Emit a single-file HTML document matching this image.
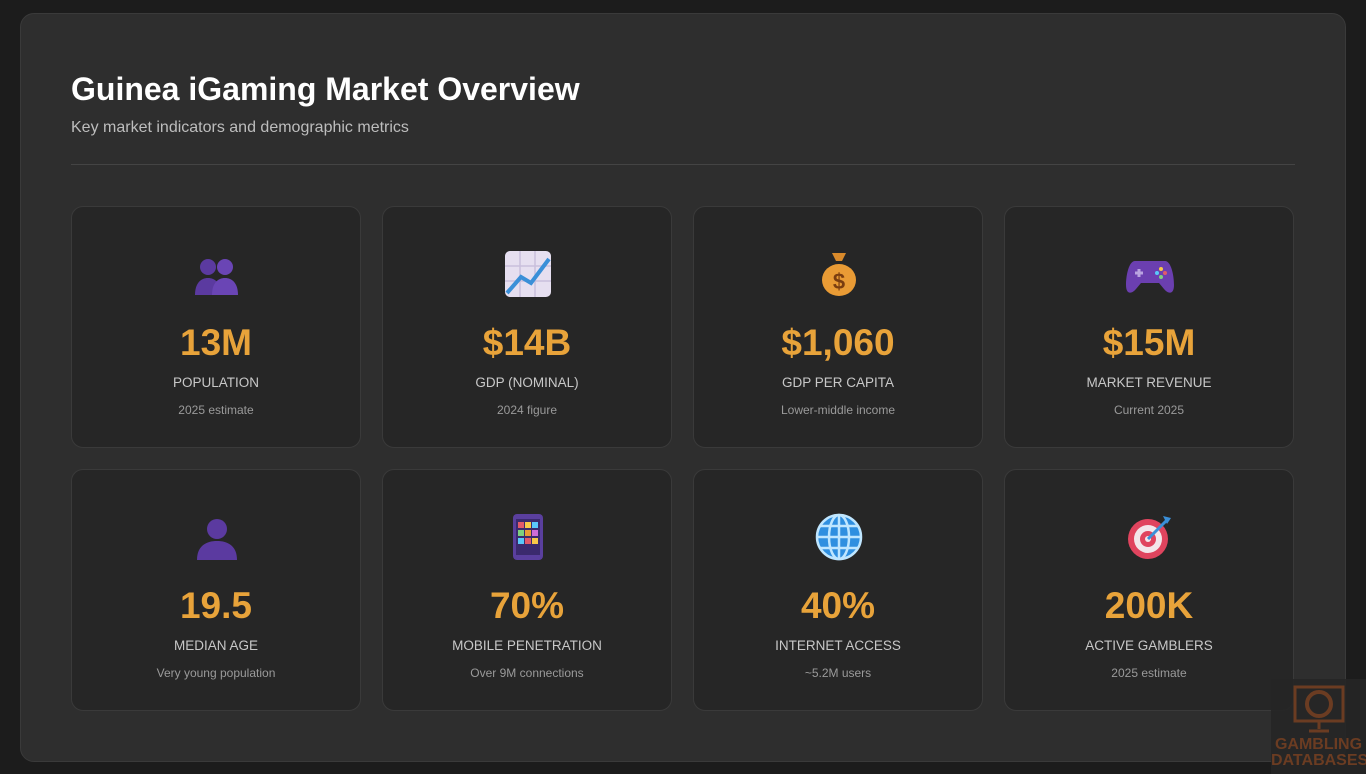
<!DOCTYPE html>
<html><head><meta charset="utf-8"><style>
*{margin:0;padding:0;box-sizing:border-box}
body{width:1366px;height:774px;background:#1c1c1c;font-family:"Liberation Sans","DejaVu Sans",sans-serif;position:relative;overflow:hidden}
.wrap{position:absolute;left:20px;top:13px;width:1326px;height:749px;background:#2e2e2e;border:1px solid #3a3a3a;border-radius:14px}
h1{position:absolute;left:50px;top:57px;color:#fff;font-size:32px;font-weight:bold}
.sub{position:absolute;left:50px;top:105px;color:#bdbdbd;font-size:16px}
.hr{position:absolute;left:50px;top:150px;width:1224px;height:1px;background:#444}
.card{position:absolute;width:290px;height:242px;background:#262626;border:1px solid #3a3a3a;border-radius:12px;text-align:center}
.ic{position:absolute;left:120px;top:42px;width:50px;height:50px}
.v{position:absolute;left:0;right:0;top:115px;color:#e8a33a;font-size:37px;font-weight:bold}
.l{position:absolute;left:0;right:0;top:168px;color:#c8c8c8;font-size:13.5px}
.s{position:absolute;left:0;right:0;top:196px;color:#9a9a9a;font-size:12px}
.wm{position:absolute;left:1271px;top:679px;width:95px;height:95px;background:rgba(38,38,38,.9);color:#6b3c22;font-weight:bold;font-size:16px;text-align:center;line-height:16px;padding-top:58px}
.wm svg{position:absolute;left:22px;top:6px}
</style></head><body>
<div class="wrap">
<h1>Guinea iGaming Market Overview</h1>
<div class="sub">Key market indicators and demographic metrics</div>
<div class="hr"></div>
</div>

<div class="card" style="left:71px;top:206px">
<svg class="ic" viewBox="0 0 50 50"><circle cx="16" cy="18" r="8" fill="#5b3aa0"/><path d="M3 46c0-12 6-17 13-17s13 5 13 17z" fill="#5b3aa0"/><circle cx="33" cy="18" r="8" fill="#6a45b5"/><path d="M20 46c0-12 6-17 13-17s13 5 13 17z" fill="#6a45b5"/></svg>
<div class="v">13M</div><div class="l">POPULATION</div><div class="s">2025 estimate</div></div>

<div class="card" style="left:382px;top:206px">
<svg class="ic" viewBox="0 0 50 50"><rect x="2" y="2" width="46" height="46" rx="5" fill="#e6dff0"/><path d="M2 17H48M2 32H48M17 2V48M32 2V48" stroke="#c9bfdc" stroke-width="1.5"/><path d="M4 44L18 28L28 34L46 10" stroke="#3a8fd8" stroke-width="4" fill="none"/></svg>
<div class="v">$14B</div><div class="l">GDP (NOMINAL)</div><div class="s">2024 figure</div></div>

<div class="card" style="left:693px;top:206px">
<svg class="ic" viewBox="0 0 50 50"><path d="M18 4h14l-4 8h-6z" fill="#d98a2b"/><ellipse cx="25" cy="31" rx="17" ry="16" fill="#e99b35"/><text x="25" y="40" font-size="22" font-weight="bold" text-anchor="middle" fill="#7a3d10" font-family="Liberation Sans">$</text></svg>
<div class="v">$1,060</div><div class="l">GDP PER CAPITA</div><div class="s">Lower-middle income</div></div>

<div class="card" style="left:1004px;top:206px">
<svg class="ic" viewBox="0 0 50 50"><path d="M10 12h30c6 0 9 14 9 24s-6 9-10 4l-5-6H16l-5 6c-4 5-10 6-10-4s3-24 9-24z" fill="#6b3fb0"/><circle cx="36" cy="20" r="2" fill="#f7c948"/><circle cx="40" cy="24" r="2" fill="#e25a6a"/><circle cx="32" cy="24" r="2" fill="#5ac8fa"/><circle cx="36" cy="28" r="2" fill="#7ed07e"/><path d="M10 24h8M14 20v8" stroke="#b9a3e0" stroke-width="3"/></svg>
<div class="v">$15M</div><div class="l">MARKET REVENUE</div><div class="s">Current 2025</div></div>

<div class="card" style="left:71px;top:469px">
<svg class="ic" viewBox="0 0 50 50"><circle cx="25" cy="17" r="10" fill="#5b3aa0"/><path d="M5 48c0-14 9-19 20-19s20 5 20 19z" fill="#5b3aa0"/></svg>
<div class="v">19.5</div><div class="l">MEDIAN AGE</div><div class="s">Very young population</div></div>

<div class="card" style="left:382px;top:469px">
<svg class="ic" viewBox="0 0 50 50"><rect x="10" y="2" width="30" height="46" rx="4" fill="#5a3f9e"/><rect x="13" y="7" width="24" height="36" fill="#3b2a6e"/><g><rect x="15" y="10" width="6" height="6" fill="#e25a6a"/><rect x="22" y="10" width="6" height="6" fill="#f7c948"/><rect x="29" y="10" width="6" height="6" fill="#5ac8fa"/><rect x="15" y="18" width="6" height="6" fill="#7ed07e"/><rect x="22" y="18" width="6" height="6" fill="#e99b35"/><rect x="29" y="18" width="6" height="6" fill="#d06cd8"/><rect x="15" y="26" width="6" height="6" fill="#5ac8fa"/><rect x="22" y="26" width="6" height="6" fill="#e25a6a"/><rect x="29" y="26" width="6" height="6" fill="#f7c948"/></g></svg>
<div class="v">70%</div><div class="l">MOBILE PENETRATION</div><div class="s">Over 9M connections</div></div>

<div class="card" style="left:693px;top:469px">
<svg class="ic" viewBox="0 0 50 50"><circle cx="25" cy="25" r="22" fill="#2f8fe0"/><g stroke="#bfe6ff" stroke-width="2.5" fill="none"><circle cx="25" cy="25" r="22"/><ellipse cx="25" cy="25" rx="10" ry="22"/><path d="M25 3v44M3 25h44M6 14h38M6 36h38"/></g></svg>
<div class="v">40%</div><div class="l">INTERNET ACCESS</div><div class="s">~5.2M users</div></div>

<div class="card" style="left:1004px;top:469px">
<svg class="ic" viewBox="0 0 50 50"><circle cx="23" cy="27" r="20" fill="#e0445e"/><circle cx="23" cy="27" r="14" fill="#f3e6ea"/><circle cx="23" cy="27" r="8" fill="#e0445e"/><circle cx="23" cy="27" r="3" fill="#f3e6ea"/><path d="M23 27L42 8" stroke="#3a8fd8" stroke-width="3"/><path d="M38 4l8 2-4 6z" fill="#3a8fd8"/></svg>
<div class="v">200K</div><div class="l">ACTIVE GAMBLERS</div><div class="s">2025 estimate</div></div>

<div class="wm"><svg width="52" height="50" viewBox="0 0 52 50"><rect x="2" y="2" width="48" height="34" fill="none" stroke="#6b3c22" stroke-width="3"/><circle cx="26" cy="19" r="12" fill="none" stroke="#6b3c22" stroke-width="4"/><path d="M26 36v8M16 46h20" stroke="#6b3c22" stroke-width="3"/></svg>GAMBLING<br>DATABASES</div>
</body></html>
